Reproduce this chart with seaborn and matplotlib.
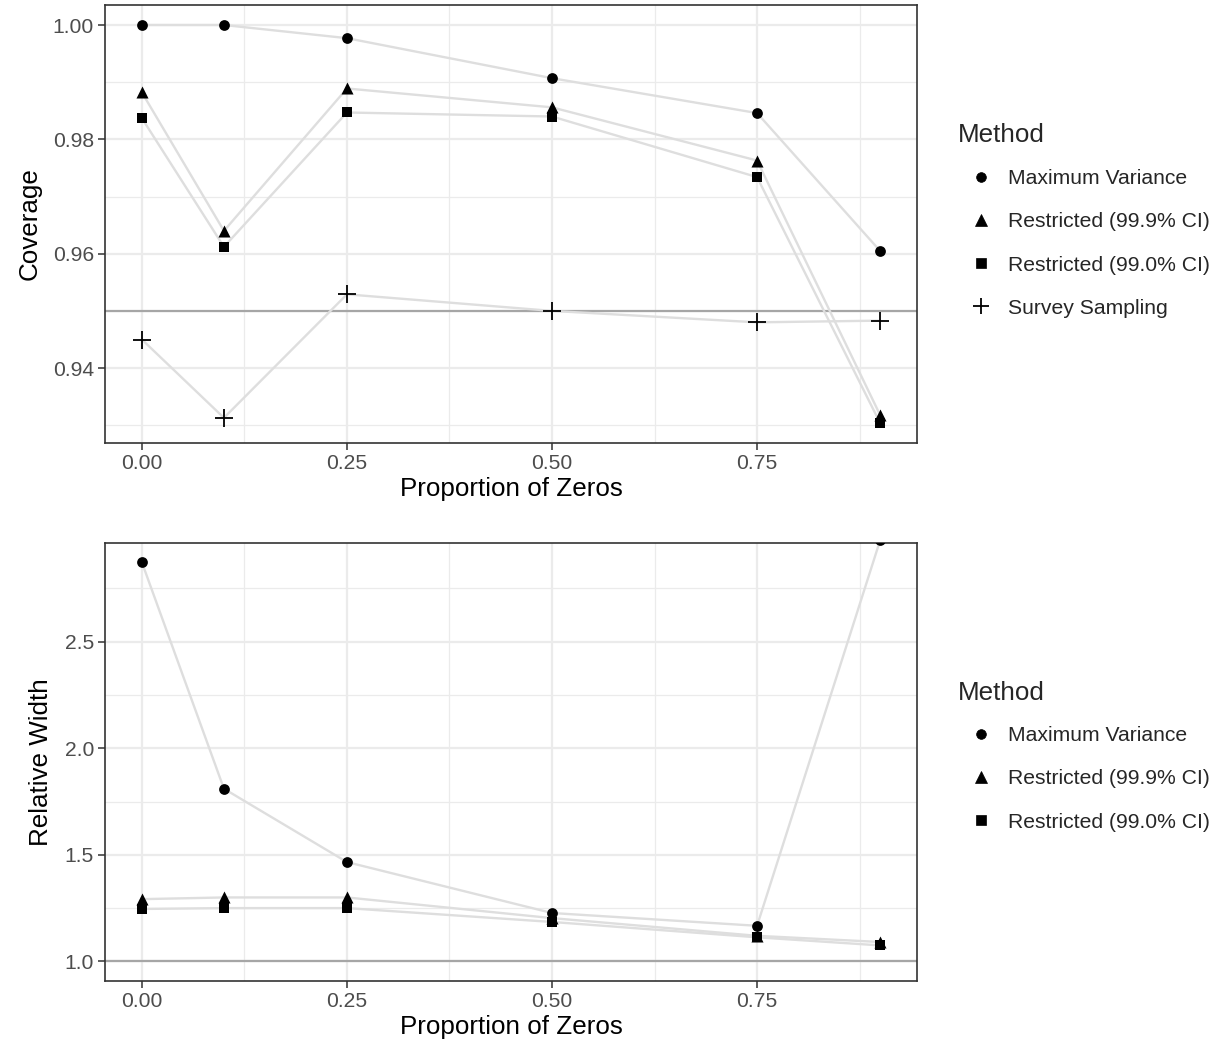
import numpy as np
import pandas as pd
import matplotlib
matplotlib.use("Agg")
import matplotlib.pyplot as plt
from matplotlib.lines import Line2D
from matplotlib.ticker import FixedLocator
import seaborn as sns

sns.set_theme(style="white")
plt.rcParams['font.family'] = ['Liberation Sans', 'DejaVu Sans']

# ---------------- data ----------------
prop_zeros = [0.0, 0.1, 0.25, 0.5, 0.75, 0.9]
methods = ["Maximum Variance", "Restricted (99.9% CI)", "Restricted (99.0% CI)", "Survey Sampling"]

cov_maxvar = [1.000, 1.000, 0.9977, 0.9907, 0.9846, 0.9605]
cov_r999 = [0.9882, 0.9640, 0.9889, 0.9856, 0.9763, 0.9318]
cov_r990 = [0.9837, 0.9612, 0.9847, 0.9840, 0.9734, 0.9304]
cov_survey = [0.9450, 0.9313, 0.9529, 0.9500, 0.9480, 0.9483]

wid_maxvar = [2.872, 1.810, 1.466, 1.227, 1.167, 2.975]
wid_r999 = [1.292, 1.300, 1.300, 1.203, 1.120, 1.091]
wid_r990 = [1.246, 1.250, 1.250, 1.185, 1.113, 1.075]

cov_target = 0.95
wid_ref = 1.0

markers = {"Maximum Variance": "o", "Restricted (99.9% CI)": "^",
           "Restricted (99.0% CI)": "s", "Survey Sampling": "+"}
msizes = {"o": 60, "^": 75, "s": 55, "+": 170}

cov_df = pd.DataFrame({
    "Proportion of Zeros": prop_zeros * 4,
    "value": cov_maxvar + cov_r999 + cov_r990 + cov_survey,
    "Method": np.repeat(methods, len(prop_zeros)),
})
wid_df = pd.DataFrame({
    "Proportion of Zeros": prop_zeros * 3,
    "value": wid_maxvar + wid_r999 + wid_r990,
    "Method": np.repeat(methods[:3], len(prop_zeros)),
})

W, H = 1228, 1051
fig = plt.figure(figsize=(W / 100, H / 100), dpi=100)

def px_axes(x0, y0, x1, y1):
    return fig.add_axes([x0 / W, 1 - y1 / H, (x1 - x0) / W, (y1 - y0) / H])

ax1 = px_axes(105, 5, 917, 443)
ax2 = px_axes(105, 543, 917, 981)

line_col = "#DEDEDE"
grid_col = "#EBEBEB"
tick_col = "#4D4D4D"
TICK_FS = 15.2
TITLE_FS = 18.7


def draw_panel(ax, df, ylabel, hline, ylim, ymajor, yminor, fmt):
    ax.set_xlim(-0.045, 0.945)
    ax.set_ylim(*ylim)
    ax.xaxis.set_major_locator(FixedLocator([0, 0.25, 0.5, 0.75]))
    ax.xaxis.set_minor_locator(FixedLocator([0.125, 0.375, 0.625, 0.875]))
    ax.yaxis.set_major_locator(FixedLocator(ymajor))
    ax.yaxis.set_minor_locator(FixedLocator(yminor))
    ax.grid(True, which="major", color=grid_col, linewidth=1.6, zorder=0)
    ax.grid(True, which="minor", color=grid_col, linewidth=0.9, zorder=0)
    ax.set_axisbelow(True)
    ax.axhline(hline, color="#A6A6A6", linewidth=1.6, zorder=1)
    sns.lineplot(data=df, x="Proportion of Zeros", y="value", units="Method",
                 estimator=None, color=line_col, linewidth=1.7, ax=ax,
                 legend=False, zorder=2, sort=False)
    for m in df["Method"].unique():
        sub = df[df["Method"] == m]
        mk = markers[m]
        kw = dict(color="black", linewidth=0) if mk != "+" else dict(color="black", linewidth=1.3)
        sns.scatterplot(data=sub, x="Proportion of Zeros", y="value", marker=mk,
                        s=msizes[mk], ax=ax, legend=False, zorder=3, **kw)
    ax.set_xticklabels(["0.00", "0.25", "0.50", "0.75"])
    ax.set_yticklabels([fmt.format(v) for v in ymajor])
    ax.tick_params(axis="both", which="major", length=5, width=1.1, color="#333333",
                   labelsize=TICK_FS, labelcolor=tick_col, pad=3, direction="out",
                   left=True, bottom=True)
    ax.tick_params(axis="both", which="minor", length=0)
    for sp in ax.spines.values():
        sp.set_color("#333333")
        sp.set_linewidth(1.2)
    ax.set_xlabel("Proportion of Zeros", fontsize=TITLE_FS, color="black", labelpad=3)
    ax.set_ylabel(ylabel, fontsize=TITLE_FS, color="black", labelpad=8)


draw_panel(ax1, cov_df, "Coverage", cov_target, (0.9269, 1.0035),
           [0.94, 0.96, 0.98, 1.00], [0.93, 0.95, 0.97, 0.99], "{:.2f}")
draw_panel(ax2, wid_df, "Relative Width", wid_ref, (0.908, 2.963),
           [1.0, 1.5, 2.0, 2.5], [1.25, 1.75, 2.25, 2.75], "{:.1f}")


def add_legend(title_y, first_y, meths):
    fig.text(958 / W, 1 - title_y / H, "Method", fontsize=TITLE_FS, va="center", ha="left")
    handles = []
    for m in meths:
        mk = markers[m]
        ms = {"o": 7, "^": 8.5, "s": 7, "+": 11}[mk]
        handles.append(Line2D([], [], linestyle="none", marker=mk, color="black",
                              markersize=ms,
                              markeredgewidth=1.3 if mk == "+" else 0.5, label=m))
    leg = fig.legend(handles=handles, loc="upper left",
                     bbox_to_anchor=(970 / W, 1 - (first_y - 8) / H),
                     frameon=False, fontsize=TICK_FS, borderpad=0, borderaxespad=0,
                     handlelength=1.0, handletextpad=0.8, labelspacing=1.15)
    return leg


add_legend(135, 177, methods)
add_legend(693, 734, methods[:3])

fig.savefig("out.png", dpi=100, facecolor="white")
